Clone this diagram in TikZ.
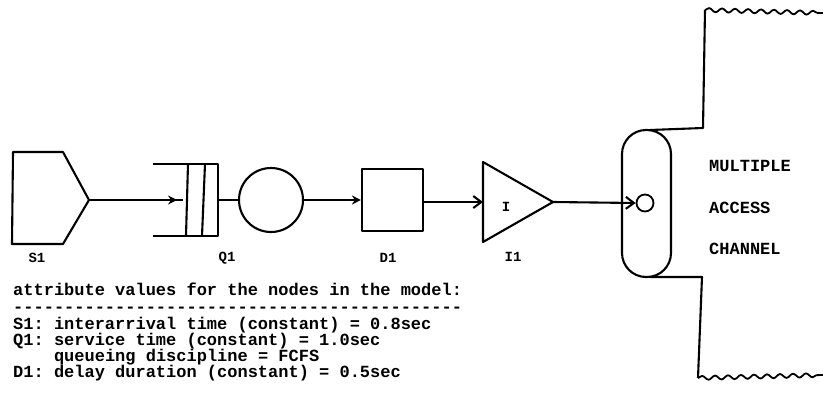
\documentclass[tikz,border=0pt]{standalone}
\usepackage{fontspec}
\newfontfamily\dotfont{Liberation Mono}
\usetikzlibrary{arrows.meta,decorations.pathmorphing}
\begin{document}
\frenchspacing
\begin{tikzpicture}[x=1pt,y=-1pt,
  shp/.style={line width=2.1pt, line join=round},
  conn/.style={line width=2.1pt},
  lbl/.style={font=\dotfont\bfseries\fontsize{14}{14}\selectfont, inner sep=0pt},
  bigtxt/.style={font=\dotfont\bfseries\fontsize{17}{17}\selectfont\frenchspacing, inner sep=0pt, anchor=base west},
  wavy/.style={line width=1.8pt, decorate, decoration={snake, segment length=13pt, amplitude=2pt}}]
\useasboundingbox (0,0) rectangle (823,413);
% S1 source
\draw[shp] (13,152) -- (63,152) -- (89,200) -- (63,244) -- (12,244) -- cycle;
\coordinate (s1) at (89,200);
\node[lbl] (s1l) at (37,258) {S1};
% Q1 queue
\draw[shp] (153,164) -- (218,164) -- (218,236) -- (153,236);
\draw[shp] (188,164) -- (186,236);
\draw[shp] (205,164) -- (202,236);
\coordinate (qin) at (183,200);
\coordinate (qtip) at (177,200);
\coordinate (qout) at (218,200);
\node[draw, shp, circle, minimum size=64pt, inner sep=0pt] (srv) at (271,200) {};
\node[lbl] (q1l) at (227,258) {Q1};
\draw[conn] (s1) -- (qin);
\draw[conn,-{Stealth[length=9pt,width=9pt]}] (s1) -- (qtip);
\draw[conn] (qout) -- (srv.west);
% D1 delay
\node[draw, shp, minimum width=61pt, minimum height=62pt, inner sep=0pt] (d1) at (392.5,200) {};
\node[lbl] (d1l) at (388,258) {D1};
\draw[conn,-{Stealth[length=9pt,width=9pt]}] (srv.east) -- (d1.west);
% I1
\draw[shp] (483,162) -- (553,202) -- (483,242) -- cycle;
\coordinate (iin) at (483,202);
\coordinate (iout) at (553,202);
\node[lbl] (ix) at (506,207) {I};
\node[lbl] (i1l) at (513,257) {I1};
\draw[conn,-{Straight Barb[length=8pt,width=12pt]}] (d1.east |- iin) -- (iin);
% channel
\draw[shp, rounded corners=24pt] (622,130) rectangle (671,277);
\node[draw, line width=1.8pt, circle, minimum size=17pt, inner sep=0pt] (mc) at (645,203) {};
\draw[conn,-{Straight Barb[length=8pt,width=12pt]}] (iout) -- (mc.west);
\draw[shp] (650,130) -- (703,128) -- (705,10);
\draw[shp] (650,277) -- (702,277) -- (698,378);
\draw[wavy] (705,10) -- (823,13);
\draw[wavy] (698,378) -- (823,375);
\node[bigtxt] (t1) at (709,171) {MULTIPLE};
\node[bigtxt] (t2) at (709,213) {ACCESS};
\node[bigtxt] (t3) at (709,254) {CHANNEL};
% attribute text
\node[bigtxt] (a1) at (13,295) {attribute values for the nodes in the model:};
\node[bigtxt] (a2) at (13,312) {--------------------------------------------};
\node[bigtxt] (a3) at (13,329) {S1: interarrival time (constant) = 0.8sec};
\node[bigtxt] (a4) at (13,345) {Q1: service time (constant) = 1.0sec};
\node[bigtxt] (a5) at (13,361) {\ \ \ \ queueing discipline = FCFS};
\node[bigtxt] (a6) at (13,377) {D1: delay duration (constant) = 0.5sec};
\end{tikzpicture}
\end{document}
